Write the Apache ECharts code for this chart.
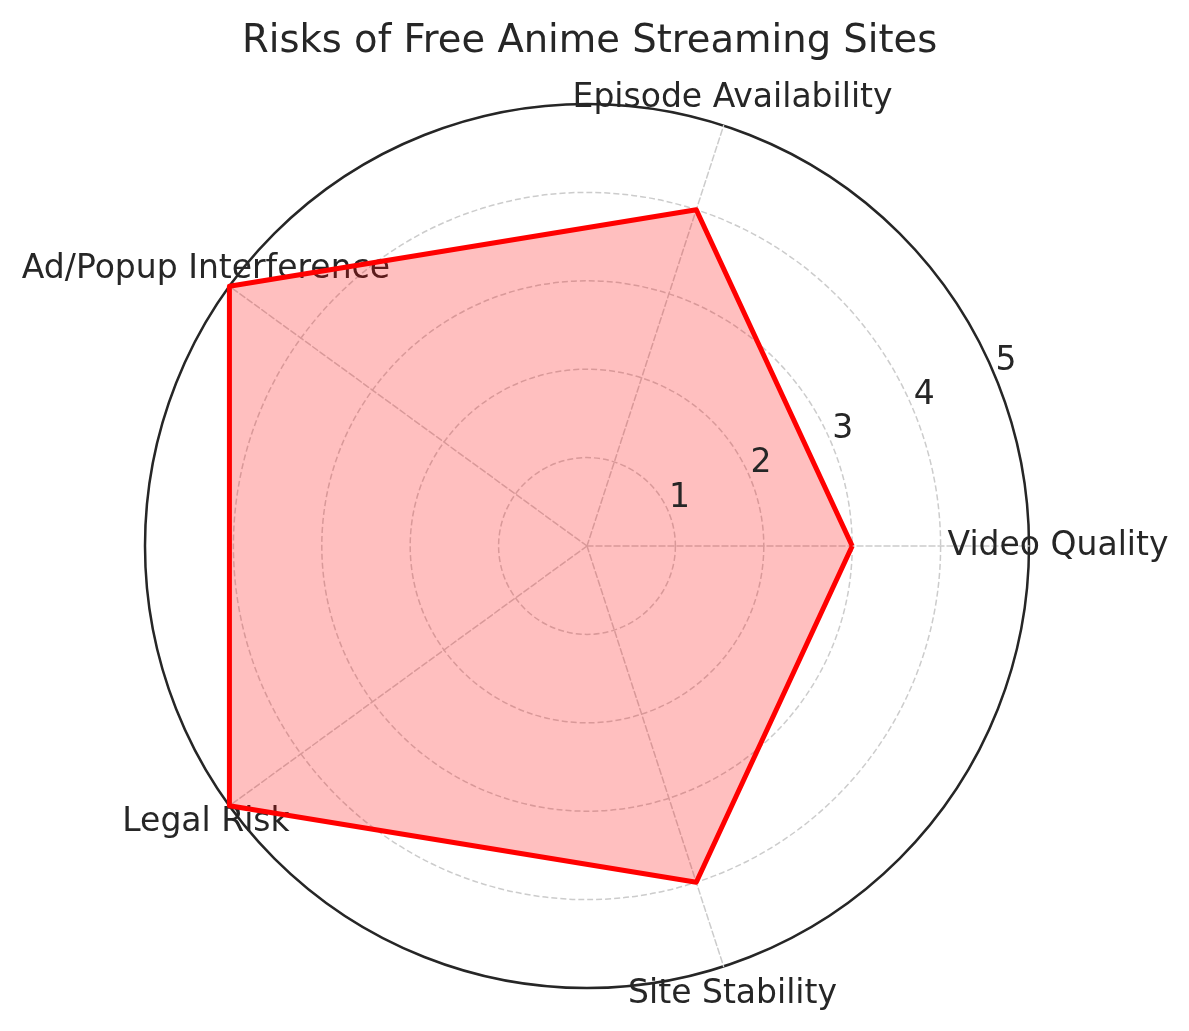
<!DOCTYPE html>
<html>
<head>
<meta charset="utf-8">
<script src="https://cdn.jsdelivr.net/npm/echarts@6/dist/echarts.min.js"></script>
<style>
html,body{margin:0;padding:0;background:#fff;}
#chart{width:1189px;height:1031px;}
</style>
</head>
<body>
<div id="chart"></div>
<script>
const titleText = 'Risks of Free Anime Streaming Sites';
const categories = ['Video Quality', 'Episode Availability', 'Ad/Popup Interference', 'Legal Risk', 'Site Stability'];
const riskValues = [3, 4, 5, 5, 4];
const maxValue = 5;
const tickStep = 1;

const textColor = '#262626';
const gridColor = '#cccccc';
const font = 'DejaVu Sans';

const chart = echarts.init(document.getElementById('chart'), null, {renderer: 'canvas'});
chart.setOption({
  animation: false,
  backgroundColor: '#ffffff',
  textStyle: {fontFamily: font},
  title: {
    text: titleText,
    left: 237,
    top: 17,
    textStyle: {fontFamily: font, fontSize: 38.5, fontWeight: 'normal', color: textColor}
  },
  radar: {
    center: [587, 546],
    radius: 442,
    startAngle: 0,
    shape: 'circle',
    splitNumber: maxValue / tickStep,
    indicator: categories.map(n => ({name: n, min: 0, max: maxValue})),
    axisNameGap: 29,
    axisName: {
      color: textColor, fontSize: 33, fontFamily: font,
      align: 'center', verticalAlign: 'middle', padding: [4, 0, 0, 0]
    },
    axisLine: {lineStyle: {color: gridColor, width: 1.5, type: [6, 3]}},
    splitLine: {lineStyle: {color: gridColor, width: 1.5, type: [6, 3]}},
    splitArea: {show: false},
    axisTick: {show: false},
    axisLabel: {show: false}
  },
  polar: [
    {center: [587, 546], radius: 442},
    {center: [611.5, 539.6], radius: 442.5}
  ],
  angleAxis: [
    {
      polarIndex: 0, type: 'value', min: 0, max: 360, startAngle: 0,
      axisLine: {show: true, lineStyle: {color: textColor, width: 2.5}},
      axisTick: {show: false}, axisLabel: {show: false}, splitLine: {show: false}
    },
    {
      polarIndex: 1, type: 'value', min: 0, max: 360, startAngle: 22.77,
      axisLine: {show: false}, axisTick: {show: false}, axisLabel: {show: false}, splitLine: {show: false}
    }
  ],
  radiusAxis: [
    {polarIndex: 0, min: 0, max: maxValue, show: false},
    {
      polarIndex: 1, min: 0, max: maxValue, interval: tickStep, z: 20,
      axisLine: {show: false}, axisTick: {show: false}, splitLine: {show: false},
      axisLabel: {
        show: true, margin: 8, fontSize: 33, color: textColor, fontFamily: font,
        formatter: v => (v === 0 ? '' : String(v))
      }
    }
  ],
  series: [{
    type: 'radar',
    symbol: 'none',
    lineStyle: {color: '#ff0000', width: 5},
    areaStyle: {color: 'rgba(255,0,0,0.25)', opacity: 1},
    data: [{value: riskValues, name: 'Risk'}],
    z: 3
  }]
});
</script>
</body>
</html>
